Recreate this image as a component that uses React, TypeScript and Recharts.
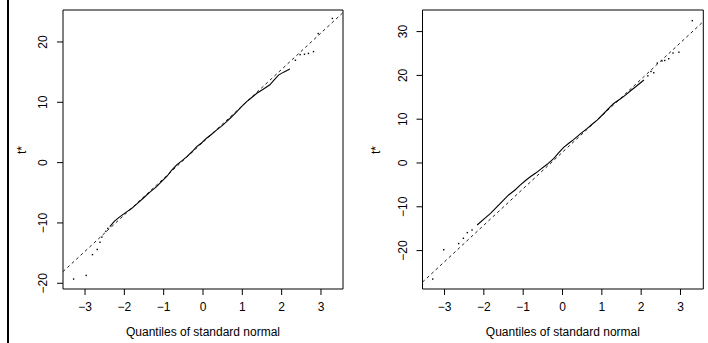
import { ScatterChart, Scatter, XAxis, YAxis, ReferenceLine, ReferenceArea, Label } from 'recharts'

// tick values
const xTicks = [-3, -2, -1, 0, 1, 2, 3]
const leftYTicks = [-20, -10, 0, 10, 20]
const rightYTicks = [-20, -10, 0, 10, 20, 30]

// left panel: lower tail, dense middle, upper tail  [theoretical quantile, t*]
const leftLowTail = [
  [-3.29, -19.3], [-2.97, -18.7], [-2.81, -15.25], [-2.69, -14.4], [-2.62, -13.2],
  [-2.57, -12.35], [-2.47, -11.4], [-2.42, -10.9],
]
const leftBody = [
  [-2.37, -10.6], [-2.25, -9.7], [-2.11, -8.96], [-1.95, -8.2], [-1.81, -7.57], [-1.66, -6.7],
  [-1.52, -5.9], [-1.35, -4.9], [-1.18, -3.98], [-1.05, -3.1], [-0.92, -2.3], [-0.8, -1.3],
  [-0.67, -0.38], [-0.54, 0.3], [-0.41, 1.0], [-0.28, 1.8], [-0.16, 2.65], [-0.03, 3.3],
  [0.09, 4.05], [0.22, 4.7], [0.35, 5.42], [0.48, 6.1], [0.6, 6.8], [0.73, 7.6], [0.86, 8.46],
  [0.98, 9.3], [1.11, 10.1], [1.24, 10.8], [1.37, 11.5], [1.53, 12.15], [1.7, 12.9],
  [1.81, 13.7], [1.92, 14.5], [2.05, 15.0], [2.21, 15.5],
]
const leftHighTail = [
  [2.35, 16.97], [2.47, 17.9], [2.58, 17.96], [2.68, 18.1], [2.81, 18.4], [2.93, 21.4], [3.29, 23.9],
]

// right panel
const rightLowTail = [
  [-3.3, -26.5], [-3.02, -19.8], [-2.64, -18.4], [-2.52, -17.2], [-2.42, -15.9], [-2.3, -15.3],
]
const rightBody = [
  [-2.17, -14.15], [-2.0, -12.8], [-1.83, -11.5], [-1.7, -10.3], [-1.58, -9.2], [-1.37, -7.3],
  [-1.2, -6.1], [-1.07, -5.0], [-0.94, -4.0], [-0.81, -3.1], [-0.68, -2.3], [-0.56, -1.45],
  [-0.39, -0.3], [-0.22, 1.07], [-0.1, 2.3], [0.03, 3.58], [0.16, 4.5], [0.29, 5.4],
  [0.46, 6.7], [0.63, 7.9], [0.76, 8.9], [0.88, 9.8], [1.05, 11.3], [1.18, 12.5], [1.3, 13.6],
  [1.45, 14.5], [1.6, 15.5], [1.73, 16.5], [1.86, 17.4], [2.07, 18.95],
]
const rightHighTail = [
  [2.17, 19.9], [2.25, 20.9], [2.32, 20.6], [2.41, 22.8], [2.53, 23.3], [2.6, 23.4], [2.7, 23.8],
  [2.81, 25.1], [2.96, 25.3], [3.3, 32.5],
]

// qq reference lines (endpoints at the axis limits)
const leftRefLine = [[-3.56, -18.07], [3.56, 24.87]]
const rightRefLine = [[-3.56, -27.2], [3.58, 32.3]]

const FONT = '"Liberation Sans", Arial, Helvetica, sans-serif'

const toPts = (a: number[][]) => a.map(([x, y]) => ({ x, y }))
const fmt = (v: number) => (v < 0 ? '\u2212' + Math.abs(v) : String(v))

function Dot(props: any) {
  const { cx, cy } = props
  if (cx == null || cy == null) return <g />
  return <rect x={cx - 0.7} y={cy - 0.7} width={1.4} height={1.4} fill="#000" />
}

function NoDot() {
  return <g />
}

function XTick({ x, y, payload }: any) {
  return (
    <text x={x} y={y + 16} textAnchor="middle" fontSize={12} fontFamily={FONT} fill="#000">
      {fmt(payload.value)}
    </text>
  )
}

function YTick({ x, y, payload }: any) {
  const bx = x - 9.7
  return (
    <text x={bx} y={y} transform={`rotate(-90, ${bx}, ${y})`} textAnchor="middle" fontSize={12} fontFamily={FONT} fill="#000">
      {fmt(payload.value)}
    </text>
  )
}

interface PanelProps {
  lowTail: number[][]
  body: number[][]
  highTail: number[][]
  refLine: number[][]
  xDomain: [number, number]
  yDomain: [number, number]
  yTicks: number[]
  yAxisWidth: number
  rightMargin: number
}

function QQPanel({ lowTail, body, highTail, refLine, xDomain, yDomain, yTicks, yAxisWidth, rightMargin }: PanelProps) {
  const plotLeft = yAxisWidth
  const plotRight = 354 - rightMargin
  return (
    <ScatterChart width={354} height={343} margin={{ top: 10, right: rightMargin, bottom: 0, left: 0 }}>
      <XAxis
        type="number"
        dataKey="x"
        domain={xDomain}
        ticks={xTicks}
        interval={0}
        allowDataOverflow
        axisLine={false}
        tickLine={{ stroke: '#000' }}
        tickSize={6}
        tickMargin={0}
        height={54}
        tick={<XTick />}
      >
        <Label
          content={() => (
            <text x={(plotLeft + plotRight) / 2} y={336} textAnchor="middle" fontSize={12} fontFamily={FONT} fill="#000">
              Quantiles of standard normal
            </text>
          )}
        />
      </XAxis>
      <YAxis
        type="number"
        dataKey="y"
        domain={yDomain}
        ticks={yTicks}
        interval={0}
        allowDataOverflow
        axisLine={false}
        tickLine={{ stroke: '#000' }}
        tickSize={6}
        tickMargin={0}
        width={yAxisWidth}
        tick={<YTick />}
      >
        <Label
          content={() => (
            <text x={26} y={150} transform="rotate(-90, 26, 150)" textAnchor="middle" fontSize={12} fontFamily={FONT} fill="#000">
              t*
            </text>
          )}
        />
      </YAxis>
      <ReferenceArea
        x1={xDomain[0]}
        x2={xDomain[1]}
        y1={yDomain[0]}
        y2={yDomain[1]}
        fill="none"
        fillOpacity={0}
        stroke="#000"
        strokeWidth={1}
        ifOverflow="visible"
      />
      <ReferenceLine
        segment={[
          { x: refLine[0][0], y: refLine[0][1] },
          { x: refLine[1][0], y: refLine[1][1] },
        ]}
        stroke="#222"
        strokeWidth={1}
        strokeDasharray="3 3"
        ifOverflow="visible"
      />
      <Scatter data={toPts(body)} line={{ stroke: '#000', strokeWidth: 1.1 }} shape={<NoDot />} isAnimationActive={false} />
      <Scatter data={toPts(lowTail)} shape={<Dot />} isAnimationActive={false} />
      <Scatter data={toPts(highTail)} shape={<Dot />} isAnimationActive={false} />
    </ScatterChart>
  )
}

export default function App() {
  return (
    <div style={{ position: 'fixed', left: 0, top: 0, width: 708, height: 343, background: '#fff', overflow: 'hidden' }}>
      <div style={{ position: 'absolute', left: 7, top: 0, width: 2, height: 343, background: '#000' }} />
      <div style={{ position: 'absolute', left: 0, top: 0 }}>
        <QQPanel
          lowTail={leftLowTail}
          body={leftBody}
          highTail={leftHighTail}
          refLine={leftRefLine}
          xDomain={[-3.56, 3.56]}
          yDomain={[-20.95, 25.3]}
          yTicks={leftYTicks}
          yAxisWidth={63}
          rightMargin={11}
        />
      </div>
      <div style={{ position: 'absolute', left: 354, top: 0 }}>
        <QQPanel
          lowTail={rightLowTail}
          body={rightBody}
          highTail={rightHighTail}
          refLine={rightRefLine}
          xDomain={[-3.56, 3.58]}
          yDomain={[-28.77, 34.93]}
          yTicks={rightYTicks}
          yAxisWidth={68.5}
          rightMargin={4.7}
        />
      </div>
    </div>
  )
}
